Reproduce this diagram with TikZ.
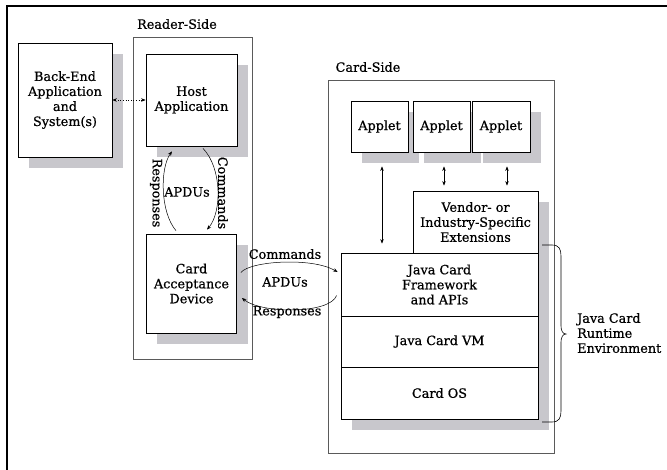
\documentclass[tikz,border=0pt]{standalone}
\usepackage{fontspec}
\setmainfont{DejaVu Serif}[FakeBold=0.6]
\usetikzlibrary{arrows.meta,backgrounds,calc}
\newcommand\dtxt{\fontsize{12.8}{15}\selectfont}
\definecolor{shad}{RGB}{200,199,204}
\definecolor{cont}{RGB}{90,90,90}
\begin{document}
\begin{tikzpicture}[x=1pt,y=-1pt,
  box/.style={draw=black, line width=0.8pt, fill=white, align=center, inner sep=0pt, font=\dtxt},
  container/.style={draw=cont, line width=0.9pt, inner sep=0pt},
  lbl/.style={font=\dtxt, inner sep=1pt},
  arr/.style={-{Stealth[length=4.5pt,width=3.5pt]}, line width=0.5pt},
  darr/.style={{Stealth[length=4.5pt,width=3.5pt]}-{Stealth[length=4.5pt,width=3.5pt]}, line width=0.6pt},
  shadow/.style={fill=shad}]
\useasboundingbox (0,0) rectangle (667,469);
% outer frame
\draw[line width=2pt] (667,6) -- (7,6) -- (7,470);
% containers
\node[container, minimum width=119pt, minimum height=322pt] (reader) at (192.5,198) {};
\node[container, minimum width=226pt, minimum height=373pt] (card) at (441,266.5) {};
\node[lbl] (readerlbl) at (177,24) {Reader-Side};
\node[lbl] (cardlbl) at (368,67) {Card-Side};
% reader-side boxes
\node[box, minimum width=94pt, minimum height=114pt] (be) at (65,100) {Back-End\\Application\\and\\System(s)};
\node[box, minimum width=91pt, minimum height=92pt] (host) at (191.5,100) {Host\\Application};
\node[box, minimum width=90pt, minimum height=99pt] (cad) at (191.5,283.5) {Card\\Acceptance\\Device};
% card-side boxes
\node[box, minimum width=57pt, minimum height=51pt] (ap1) at (379.5,126.5) {Applet};
\node[box, minimum width=57pt, minimum height=51pt] (ap2) at (441.5,126.5) {Applet};
\node[box, minimum width=58pt, minimum height=51pt] (ap3) at (501,126.5) {Applet};
\node[box, minimum width=125pt, minimum height=62pt] (vend) at (475.5,222) {Vendor- or\\Industry-Specific\\Extensions};
\node[box, minimum width=197pt, minimum height=63pt] (fw) at (439.5,284.5) {Java Card\\Framework\\and APIs};
\node[box, minimum width=197pt, minimum height=51pt] (vm) at (439.5,341.5) {Java Card VM};
\node[box, minimum width=197pt, minimum height=52pt] (os) at (439.5,393) {Card OS};
% shadows
\begin{scope}[on background layer]
  \foreach \n in {be,host,cad,ap1,ap2,ap3,vend,fw,vm,os}
    \fill[shadow] ($(\n.north west)+(11,11)$) rectangle ($(\n.south east)+(11,11)$);
\end{scope}
% connectors
\draw[darr, dotted] (be.east) -- (host.west);
\draw[arr] ($(cad.north)+(-15.5,-3)$) .. controls (160,212) and (160,168) .. ($(host.south)+(-19.5,5)$);
\draw[arr] ($(host.south)+(11.5,2)$) .. controls (222,168) and (222,212) .. ($(cad.north)+(15.5,-4)$);
\draw[arr] ($(cad.east)+(4,-11)$) .. controls (250,261) and (312,257) .. ($(fw.west)+(-3,-12.5)$);
\draw[arr] ($(fw.west)+(-4,11)$) .. controls (330,314) and (262,314) .. ($(cad.east)+(5,14.5)$);
\draw[darr] ($(ap1.south)+(2.5,14)$) -- ($(fw.north)+(-57.5,-9)$);
\draw[darr] ($(ap2.south)+(2.5,14)$) -- ($(vend.north)+(-31.5,-5)$);
\draw[darr] ($(ap3.south)+(6,14)$) -- ($(vend.north)+(31.5,-5)$);
% labels
\node[lbl, rotate=-90] (resp1) at (156,193) {Responses};
\node[lbl, rotate=-90] (cmd1) at (223,193) {Commands};
\node[lbl] (apdu1) at (187,192) {APDUs};
\node[lbl] (cmd2) at (285,254) {Commands};
\node[lbl] (apdu2) at (285,282) {APDUs};
\node[lbl] (resp2) at (287,312) {Responses};
% brace
\draw[line width=0.6pt] (542,245) -- (552,245) .. controls (559,245) and (561,249) .. (561,256)
  -- (561,326) .. controls (561,331) and (563,334) .. (566,334)
  .. controls (563,334) and (561,337) .. (561,342)
  -- (561,411) .. controls (561,418) and (559,422) .. (552,422) -- (542,422);
\node[lbl, anchor=west, align=left] (jcre) at (576,333) {Java Card\\Runtime\\Environment};
\end{tikzpicture}
\end{document}
